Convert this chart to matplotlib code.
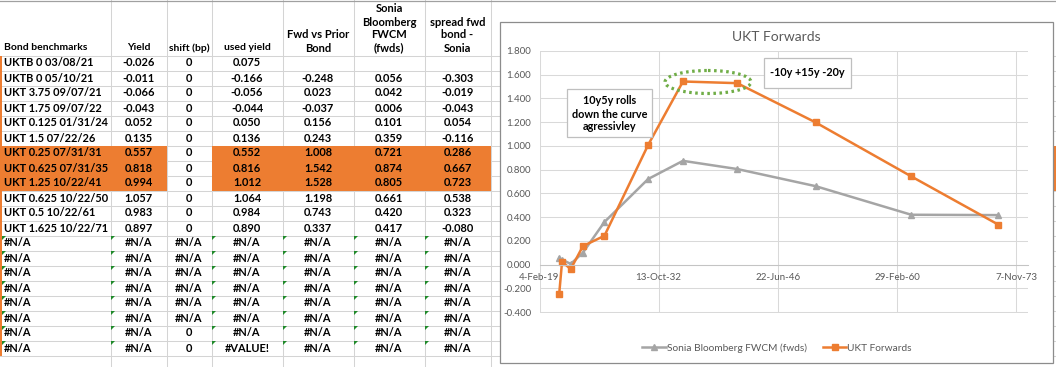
import matplotlib
matplotlib.use('Agg')
import matplotlib.pyplot as plt
import matplotlib.dates as mdates
from matplotlib.patches import Rectangle, Ellipse, Polygon
import numpy as np
import pandas as pd

# spreadsheet data
bonds = ['UKTB 0 03/08/21', 'UKTB 0 05/10/21', 'UKT 3.75 09/07/21', 'UKT 1.75 09/07/22',
         'UKT 0.125 01/31/24', 'UKT 1.5 07/22/26', 'UKT 0.25 07/31/31', 'UKT 0.625 07/31/35',
         'UKT 1.25 10/22/41', 'UKT 0.625 10/22/50', 'UKT 0.5 10/22/61', 'UKT 1.625 10/22/71']
maturities = ['2021-03-08', '2021-05-10', '2021-09-07', '2022-09-07', '2024-01-31', '2026-07-22',
              '2031-07-31', '2035-07-31', '2041-10-22', '2050-10-22', '2061-10-22', '2071-10-22']
yields = [-0.026, -0.011, -0.066, -0.043, 0.052, 0.135, 0.557, 0.818, 0.994, 1.057, 0.983, 0.897]
shift_bp = [0, 0, 0, 0, 0, 0, 0, 0, 0, 0, 0, 0]
used_yield = [0.075, -0.166, -0.056, -0.044, 0.050, 0.136, 0.552, 0.816, 1.012, 1.064, 0.984, 0.890]
fwd_vs_prior = [None, -0.248, 0.023, -0.037, 0.156, 0.243, 1.008, 1.542, 1.528, 1.198, 0.743, 0.337]
sonia_fwds = [None, 0.056, 0.042, 0.006, 0.101, 0.359, 0.721, 0.874, 0.805, 0.661, 0.420, 0.417]
spread_fwd = [None, -0.303, -0.019, -0.043, 0.054, -0.116, 0.286, 0.667, 0.723, 0.538, 0.323, -0.080]
err_shift = ['#N/A', '#N/A', '#N/A', '#N/A', '#N/A', '#N/A', '0', '0']
err_used = ['#N/A', '#N/A', '#N/A', '#N/A', '#N/A', '#N/A', '#N/A', '#VALUE!']
highlight_rows = [6, 7, 8]

headers = [['Bond benchmarks'], ['Yield'], ['shift (bp)'], ['used yield'],
           ['Fwd vs Prior', 'Bond'], ['Sonia', 'Bloomberg', 'FWCM', '(fwds)'],
           ['spread fwd', 'bond -', 'Sonia']]

x_ticks = ['2019-02-04', '2032-10-13', '2046-06-22', '2060-02-29', '2073-11-07']

ORANGE = '#ED7D31'
GREY = '#A5A5A5'
TXT = '#595959'
W, H = 1056, 367

plt.rcParams['font.family'] = ['Lato', 'DejaVu Sans']
fig = plt.figure(figsize=(W / 100, H / 100), dpi=100)

# ---- spreadsheet background (pixel coords) ----
bg = fig.add_axes([0, 0, 1, 1])
bg.set_xlim(0, W)
bg.set_ylim(H, 0)
bg.axis('off')

cols = [0, 110.5, 166.5, 211.5, 282.5, 353.5, 424.5, 490.5]
top = 55.5
rh = 15
gc = '#d4d4d4'
for x in cols[1:]:
    bg.plot([x, x], [0, H], color=gc, lw=0.75)
y = top
while y < H:
    bg.plot([0, W], [y, y], color=gc, lw=0.75)
    y += rh
bg.plot([0, W], [0.5, 0.5], color='#a0a0a0', lw=0.9)

for r in highlight_rows:
    y0 = top + r * rh
    bg.add_patch(Rectangle((0, y0), cols[2], rh, color=ORANGE, lw=0, zorder=2))
    bg.add_patch(Rectangle((cols[3], y0), cols[7] - cols[3], rh, color=ORANGE, lw=0, zorder=2))
    bg.add_patch(Rectangle((1053.5, y0), 3, rh, color=ORANGE, lw=0, zorder=2))
bg.add_patch(Rectangle((0, top), 2, 20 * rh, color=ORANGE, lw=0, zorder=3))

fs = 7.9
centers = [(cols[i] + cols[i + 1]) / 2 for i in range(7)]
for j, lines in enumerate(headers):
    for k, line in enumerate(reversed(lines)):
        x = 4 if j == 0 else centers[j]
        bg.text(x, 48 - 13 * k, line, ha='left' if j == 0 else 'center', va='center',
                fontsize=7.5 if j < 4 else 8.0, fontweight='bold', color='black', zorder=4)

def fmt(v):
    return '' if v is None else f'{v:.3f}'

for i in range(len(bonds)):
    yc = top + i * rh + 7.5
    row = [bonds[i], fmt(yields[i]), str(shift_bp[i]), fmt(used_yield[i]),
           fmt(fwd_vs_prior[i]), fmt(sonia_fwds[i]), fmt(spread_fwd[i])]
    for j, s in enumerate(row):
        bg.text(4 if j == 0 else centers[j], yc, s, ha='left' if j == 0 else 'center',
                va='center', fontsize=fs, fontweight='bold', color='black', zorder=4)

for e in range(len(err_shift)):
    r = len(bonds) + e
    y0 = top + r * rh
    yc = y0 + 7.5
    row = ['#N/A', '#N/A', err_shift[e], err_used[e], '#N/A', '#N/A', '#N/A']
    for j, s in enumerate(row):
        bg.text(4 if j == 0 else centers[j], yc, s, ha='left' if j == 0 else 'center',
                va='center', fontsize=fs, fontweight='bold', color='black', zorder=4)
        if j != 2:
            x0 = cols[j] + (2 if j == 0 else 0.5)
            bg.add_patch(Polygon([(x0, y0 + 0.5), (x0 + 4, y0 + 0.5), (x0, y0 + 4.5)],
                                 color='#1f8a2a', lw=0, zorder=4))

# chart frame
bg.add_patch(Rectangle((499.5, 21.5), 553.5, 341, facecolor='white', edgecolor='#8c8c8c',
                       lw=0.9, zorder=6))

# ---- chart ----
ax = fig.add_axes([539.5 / W, (H - 312.5) / H, 488.5 / W, 262 / H])
ax.set_facecolor('none')
dates = pd.to_datetime(maturities)
ax.plot(dates[1:], sonia_fwds[1:], color=GREY, lw=1.8, marker='^', ms=4.5,
        label='Sonia Bloomberg FWCM (fwds)')
ax.plot(dates[1:], fwd_vs_prior[1:], color=ORANGE, lw=1.8, marker='s', ms=4.2,
        label='UKT Forwards')

start = pd.Timestamp('2019-02-04')
ax.set_xlim(start, start + pd.Timedelta(days=20500))
ax.set_ylim(-0.403, 1.803)
ax.set_xticks(pd.to_datetime(x_ticks))
ax.xaxis.set_major_formatter(mdates.DateFormatter('%-d-%b-%y'))
ax.set_yticks(np.round(np.arange(-0.4, 1.81, 0.2), 1))
ax.yaxis.set_major_formatter(matplotlib.ticker.FormatStrFormatter('%.3f'))
ax.grid(color='#d9d9d9', lw=0.75)
ax.set_axisbelow(True)
for s in ['top', 'right', 'left']:
    ax.spines[s].set_visible(False)
ax.spines['bottom'].set_position(('data', 0))
ax.spines['bottom'].set_color('#c4c4c4')
ax.spines['bottom'].set_linewidth(0.75)
ax.tick_params(axis='both', length=0, labelsize=7, labelcolor=TXT)
ax.tick_params(axis='y', pad=6)
ax.tick_params(axis='x', pad=6)

fig.text(776 / W, 1 - 37 / H, 'UKT Forwards', ha='center', va='center', fontsize=10, color=TXT)
ax.legend(loc='center', bbox_to_anchor=(777 / W, 1 - 348 / H), bbox_transform=fig.transFigure,
          ncol=2, frameon=False, fontsize=7.3, labelcolor=TXT, handlelength=2.3,
          handletextpad=0.1, columnspacing=1.6)

# ---- annotations overlay ----
ov = fig.add_axes([0, 0, 1, 1])
ov.set_xlim(0, W)
ov.set_ylim(H, 0)
ov.axis('off')
ov.patch.set_visible(False)
ov.add_patch(Rectangle((567, 89), 85, 48, facecolor='white', edgecolor='#bfbfbf', lw=0.9))
for k, line in enumerate(['10y5y rolls', 'down the curve', 'agressivley']):
    ov.text(609.5, 101 + 13 * k, line, ha='center', va='center', fontsize=7.8,
            fontweight='bold', color='black')
ov.add_patch(Rectangle((764, 58), 87, 30, facecolor='white', edgecolor='#bfbfbf', lw=0.9))
ov.text(807, 73, '-10y +15y -20y', ha='center', va='center', fontsize=7.8,
        fontweight='bold', color='black')
ov.add_patch(Ellipse((708, 82), 86, 23, fill=False, edgecolor='#70AD47', lw=2.3,
                     linestyle=(0, (0.8, 1.1))))

fig.savefig('out.png', dpi=100)
